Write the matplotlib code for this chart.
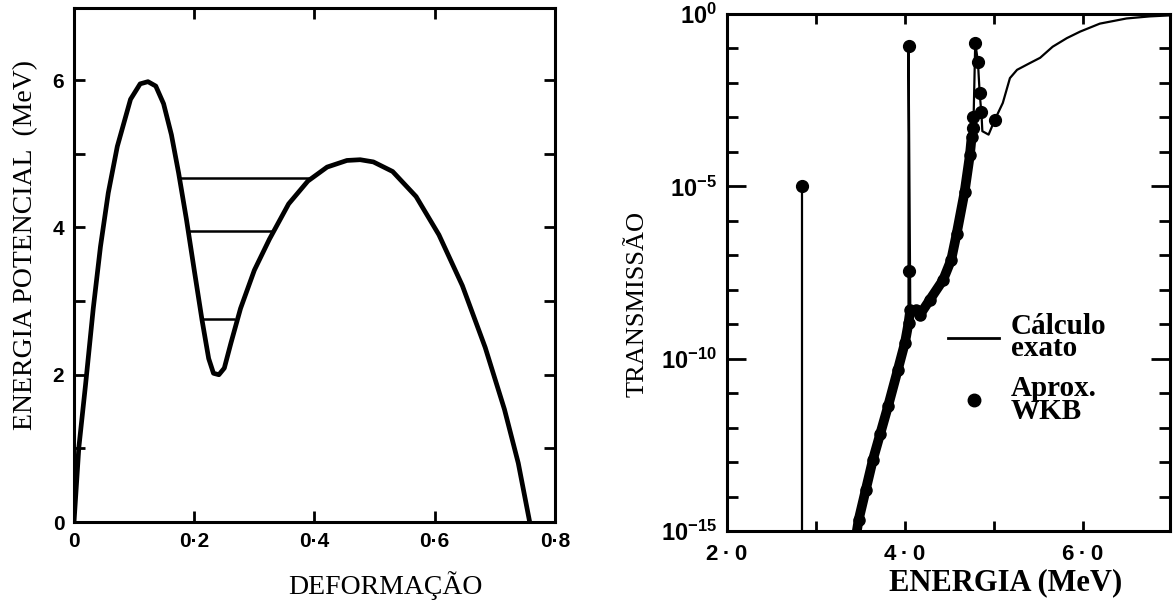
import matplotlib
matplotlib.use('Agg')
import matplotlib.pyplot as plt
from matplotlib.lines import Line2D
from matplotlib.ticker import NullFormatter
import numpy as np

plt.rcParams['font.family'] = ['Liberation Serif', 'DejaVu Serif']
plt.rcParams['mathtext.fontset'] = 'custom'
plt.rcParams['mathtext.bf'] = 'Liberation Sans:bold'
plt.rcParams['mathtext.rm'] = 'Liberation Sans'

# ---- painel esquerdo: energia potencial x deformacao ----
deformacao = [0.000, 0.008, 0.019, 0.032, 0.044, 0.057, 0.072, 0.094, 0.110, 0.123,
              0.136, 0.149, 0.162, 0.174, 0.187, 0.200, 0.213, 0.224, 0.232, 0.241,
              0.250, 0.261, 0.277, 0.300, 0.325, 0.357, 0.389, 0.421, 0.454, 0.476,
              0.498, 0.530, 0.569, 0.607, 0.646, 0.684, 0.716, 0.739, 0.758]
energia_pot = [0.00, 1.01, 1.85, 2.90, 3.74, 4.47, 5.10, 5.74, 5.95, 5.98,
               5.92, 5.68, 5.26, 4.74, 4.11, 3.42, 2.74, 2.22, 2.02, 2.00,
               2.09, 2.43, 2.90, 3.42, 3.84, 4.32, 4.63, 4.82, 4.91, 4.92,
               4.89, 4.76, 4.42, 3.90, 3.21, 2.37, 1.53, 0.80, 0.00]

# niveis do segundo poco
nivel_energia = [2.76, 3.95, 4.67]
nivel_esq = [0.212, 0.190, 0.176]
nivel_dir = [0.268, 0.332, 0.393]

# ---- painel direito: transmissao (log10) x energia ----
# calculo exato
exato_E = [3.44, 3.64, 3.81, 3.92, 4.00, 4.04, 4.04, 4.06, 4.17, 4.28, 4.43, 4.52,
           4.58, 4.67, 4.73, 4.77, 4.79, 4.82, 4.84, 4.86, 4.87, 4.94, 5.01, 5.10,
           5.18, 5.26, 5.40, 5.52, 5.66, 5.82, 5.97, 6.19, 6.49, 6.75, 6.98]
exato_logT = [-15.3, -12.93, -11.38, -10.32, -9.54, -8.97, -0.94, -8.58, -8.72, -8.29, -7.71, -7.13,
              -6.39, -5.17, -4.06, -3.2, -0.83, -1.38, -2.30, -2.9, -3.4, -3.5, -3.07, -2.58,
              -1.86, -1.62, -1.43, -1.27, -0.95, -0.70, -0.51, -0.28, -0.13, -0.07, -0.04]
# ressonancia isolada
resson_E = [2.84]
resson_logT = [-5.0]

# aproximacao WKB
wkb_E = [3.44, 3.48, 3.56, 3.64, 3.72, 3.81, 3.92, 4.00, 4.04, 4.06, 4.12, 4.17,
         4.28, 4.43, 4.52, 4.58, 4.67, 4.73, 4.75]
wkb_logT = [-15.3, -14.67, -13.8, -12.93, -12.2, -11.38, -10.32, -9.54, -8.97, -8.58, -8.6, -8.72,
            -8.29, -7.71, -7.13, -6.39, -5.17, -4.09, -3.56]
wkb_pico_E = [2.84, 4.04, 4.04, 4.79, 4.82, 4.84, 4.86, 4.77, 4.76, 5.01]
wkb_pico_logT = [-5.0, -0.94, -7.47, -0.83, -1.38, -2.30, -2.83, -2.98, -3.3, -3.07]

fig = plt.figure(figsize=(11.73, 6.03), dpi=100)
ax1 = fig.add_axes([0.0631, 0.1343, 0.410, 0.8524])
ax2 = fig.add_axes([0.6198, 0.1194, 0.3777, 0.8574])

tick_font = dict(fontfamily=['Liberation Sans', 'DejaVu Sans'], fontweight='bold', fontsize=15)

# painel esquerdo
ax1.plot(deformacao, energia_pot, color='black', lw=3.4,
         solid_capstyle='round', solid_joinstyle='round')
ax1.hlines(nivel_energia, nivel_esq, nivel_dir, color='black', lw=1.8)
ax1.set_xlim(0, 0.8)
ax1.set_ylim(0, 6.98)
ax1.set_xticks([0, 0.2, 0.4, 0.6, 0.8], ['0', '0·2', '0·4', '0·6', '0·8'], **tick_font)
ax1.set_yticks([0, 2, 4, 6], ['0', '2', '4', '6'], **tick_font)
ax1.set_yticks([1, 3, 5], minor=True)
ax1.tick_params(which='both', direction='in', top=True, right=True,
                length=8, width=2, pad=7)
ax1.set_xlabel('DEFORMAÇÃO', fontsize=20)
ax1.xaxis.label.set_va('center')
ax1.xaxis.set_label_coords(0.647, -0.1226)
ax1.set_ylabel('ENERGIA POTENCIAL  (MeV)', fontsize=20)
ax1.yaxis.label.set_va('center')
ax1.yaxis.set_label_coords(-0.1, 0.539)

# painel direito
ax2.set_yscale('log')
ax2.vlines(resson_E, 1e-17, 10 ** np.array(resson_logT), color='black', lw=1.6)
ax2.plot(exato_E, 10 ** np.array(exato_logT), color='black', lw=1.6)
ax2.plot(wkb_E, 10 ** np.array(wkb_logT), color='black', lw=7, marker='o', ms=8,
         solid_capstyle='round', solid_joinstyle='round')
ax2.plot(wkb_pico_E, 10 ** np.array(wkb_pico_logT), 'o', color='black', ms=8.5)
ax2.set_xlim(2, 6.98)
ax2.set_ylim(1e-15, 1)
ax2.set_xticks([2, 4, 6], ['2\u2009·\u20090', '4\u2009·\u20090', '6\u2009·\u20090'],
               **dict(tick_font, fontsize=16))
ax2.set_xticks([3, 5], minor=True)
ax2.set_yticks([1e-15, 1e-10, 1e-5, 1],
               [r'$\mathbf{10^{-15}}$', r'$\mathbf{10^{-10}}$', r'$\mathbf{10^{-5}}$', r'$\mathbf{10^{0}}$'],
               fontsize=17)
ax2.set_yticks([10.0 ** k for k in range(-14, 0) if k % 5 != 0], minor=True)
ax2.yaxis.set_minor_formatter(NullFormatter())
ax2.tick_params(which='both', direction='in', top=True, right=True, width=2)
ax2.tick_params(axis='x', which='both', length=7, pad=9)
ax2.tick_params(axis='y', which='major', length=14, pad=7)
ax2.tick_params(axis='y', which='minor', length=8)
ax2.set_xlabel('ENERGIA (MeV)', fontsize=22, fontweight='bold')
ax2.xaxis.label.set_va('center')
ax2.xaxis.set_label_coords(0.628, -0.10)
ax2.set_ylabel('TRANSMISSÃO', fontsize=19)
ax2.yaxis.label.set_va('center')
ax2.yaxis.set_label_coords(-0.203, 0.44)

handles = [Line2D([], [], color='black', lw=2),
           Line2D([], [], color='black', marker='o', ls='none', ms=9)]
leg = ax2.legend(handles, ['Cálculo\nexato', 'Aprox.\nWKB'], loc='upper left',
                 bbox_to_anchor=(0.499, 0.422), frameon=False,
                 prop=dict(family='Liberation Serif', weight='bold', size=21),
                 handlelength=1.75, handletextpad=0.4, borderpad=0, borderaxespad=0,
                 labelspacing=0.45)
for t in leg.get_texts():
    t.set_linespacing(0.78)

for ax in (ax1, ax2):
    for s in ax.spines.values():
        s.set_linewidth(2.2)

fig.savefig('out.png', dpi=100)
